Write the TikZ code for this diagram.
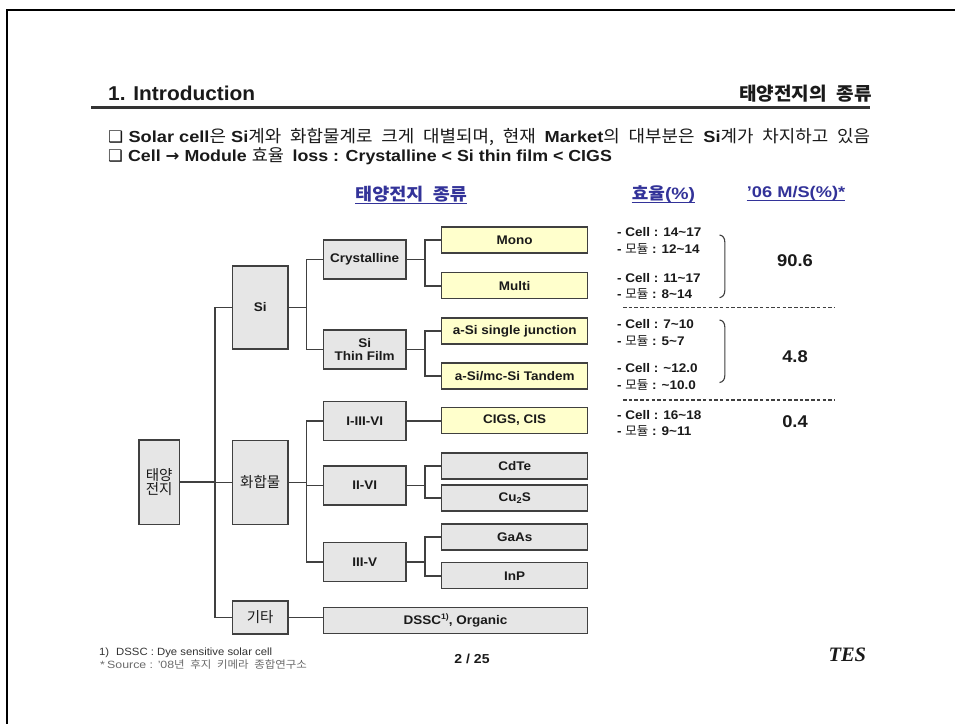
\documentclass[tikz,border=0pt]{standalone}
\usepackage{fontspec}
\setmainfont{Liberation Sans}[FakeStretch=1.08]
\newfontfamily\kr{Noto Sans CJK KR}
\newfontfamily\krw{Noto Sans CJK KR}[WordSpace=2.2]
\newfontfamily\dejavu{DejaVu Sans}
\newfontfamily\tesfont{Liberation Serif}
\newcommand{\K}[1]{{\krw\fontsize{17}{17}\selectfont #1}}
\newcommand{\KR}[1]{{\kr\mdseries #1}}
\newcommand{\fs}[1]{\fontsize{#1}{#1}\selectfont}
\newsavebox\fitbox
\newcommand{\fitw}[2]{\sbox\fitbox{#2}\pgfmathsetmacro\fitratio{#1/\wd\fitbox}\scalebox{\fitratio}[1]{\usebox\fitbox}}
\definecolor{boxgray}{HTML}{E6E6E6}
\definecolor{leafyel}{HTML}{FFFFCC}
\definecolor{lineC}{HTML}{404040}
\definecolor{navy}{HTML}{333399}
\definecolor{txt}{HTML}{1A1A1A}
\definecolor{foot}{HTML}{333333}
\definecolor{footlight}{HTML}{6A6A6A}
\tikzset{
  box/.style={draw=lineC, line width=1.5pt, fill=boxgray, inner sep=0pt, align=center, text=txt, font=\fs{12.5}\bfseries},
  leaf/.style={box, fill=leafyel, minimum width=146pt, minimum height=26pt},
  leafg/.style={box, minimum width=146pt, minimum height=26pt},
  midbox/.style={box, minimum width=82.7pt, minimum height=39pt},
  bigbox/.style={box, minimum width=55.7pt},
  conn/.style={draw=lineC, line width=1.6pt},
  eff/.style={anchor=base west, inner sep=0pt, text=txt, font=\fs{12.5}\bfseries},
  bignum/.style={inner sep=0pt, text=txt, font=\fs{17}\bfseries},
  hdr/.style={inner sep=0pt, anchor=base west, text=navy},
  uline/.style={navy, line width=1pt},
  sep/.style={draw=lineC, line width=1.2pt, dash pattern=on 3.5pt off 2.2pt},
  brace/.style={draw=lineC, line width=1.1pt},
  plain/.style={inner sep=0pt, text=txt}
}
\begin{document}
\begin{tikzpicture}[x=1pt,y=-1pt]
\useasboundingbox (0,0) rectangle (955,723);
\fill[white] (0,0) rectangle (955,723);
\draw[line width=2.6pt, black] (956,10) -- (7,10) -- (7,724);

% title
\node[plain, anchor=base west] (title) at (108,100) {\fitw{147}{\fs{20}\bfseries 1. Introduction}};
\node[plain, anchor=base west] (rhead) at (739,100.3) {\fitw{132.7}{\fs{18.3}\kr\bfseries 태양전지의 종류}};
\draw[draw=black!80, line width=2.6pt] (91,107.5) -- (870,107.5);

% bullets
\node[plain, anchor=base west] (b1) at (108,142.5)
 {\fitw{762}{\fs{16}{\dejavu ❑}\hspace{5pt}\textbf{Solar cell}\K{은} \textbf{Si}\K{계와 화합물계로 크게 대별되며, 현재 }\textbf{Market}\K{의 대부분은 }\textbf{Si}\K{계가 차지하고 있음}}};
\node[plain, anchor=base west] (b2) at (108,161)
 {\fitw{503.7}{\fs{16}{\dejavu ❑}\hspace{5pt}\textbf{Cell {\dejavu\bfseries →} Module }\K{효율 }\textbf{loss : Crystalline < Si thin film < CIGS}}};

% column headers
\node[hdr] (htype) at (355,200.3) {\fitw{111.7}{\fs{17}\kr\bfseries 태양전지 종류}};
\draw[uline] ([yshift=-2.7pt]htype.base west) -- ([yshift=-2.7pt]htype.base east);
\node[hdr] (heff) at (631.7,199.5) {\fitw{63.3}{\fs{16.5}\bfseries{\kr\bfseries 효율}(\%)}};
\draw[uline] ([yshift=-2.5pt]heff.base west) -- ([yshift=-2.5pt]heff.base east);
\node[hdr] (hms) at (746.7,197.8) {\fitw{98.3}{\fs{15.5}\bfseries ’06 M/S(\%)*}};
\draw[uline] ([yshift=-3pt]hms.base west) -- ([yshift=-3pt]hms.base east);

% tree boxes
\node[box, minimum width=40.3pt, minimum height=84.3pt] (tj) at (159.2,482.2) {\fs{14.5}\KR{태양}\\[0pt]\fs{14.5}\KR{전지}};
\node[bigbox, minimum height=83pt] (si) at (260.2,307.5) {Si};
\node[bigbox, minimum height=83.6pt] (hwa) at (260.2,482.5) {\fs{14.5}\KR{화합물}};
\node[bigbox, minimum height=33pt] (gita) at (260.2,617.5) {\fs{14.5}\KR{기타}};

\node[midbox] (cry) at (364.7,259.5) {Crystalline};
\node[midbox] (stf) at (364.7,349.5) {Si\\[1pt]Thin Film};
\node[midbox] (i3) at (364.7,421.2) {I-III-VI};
\node[midbox] (ii) at (364.7,485.5) {II-VI};
\node[midbox] (iii) at (364.7,562.2) {III-V};
\node[box, minimum width=264.4pt, minimum height=26pt] (dssc) at (455.5,620.3)
 {DSSC\raisebox{4.5pt}{\fs{8}1)}, Organic};

\node[leaf] (mono) at (514.7,239.9) {Mono};
\node[leaf] (multi) at (514.7,285.7) {Multi};
\node[leaf] (asi) at (514.7,331.2) {a-Si single junction};
\node[leaf] (tandem) at (514.7,376) {a-Si/mc-Si Tandem};
\node[leaf] (cigs) at (514.7,420.5) {CIGS, CIS};
\node[leafg] (cdte) at (514.7,466.2) {CdTe};
\node[leafg] (cu2s) at (514.7,498) {Cu\raisebox{-2.5pt}{\fs{8.5}2}S};
\node[leafg] (gaas) at (514.7,537) {GaAs};
\node[leafg] (inp) at (514.7,575.7) {InP};

% connectors
\draw[conn] (tj.east) -- ++(34.8,0) |- (si.west);
\draw[conn] (tj.east) -- ++(34.8,0) |- (hwa.west);
\draw[conn] (tj.east) -- ++(34.8,0) |- (gita.west);
\draw[conn] (si.east) -- ++(17.7,0) |- (cry.west);
\draw[conn] (si.east) -- ++(17.7,0) |- (stf.west);
\draw[conn] (cry.east) -- ++(17.9,0) |- (mono.west);
\draw[conn] (cry.east) -- ++(17.9,0) |- (multi.west);
\draw[conn] (stf.east) -- ++(17.9,0) |- (asi.west);
\draw[conn] (stf.east) -- ++(17.9,0) |- (tandem.west);
\draw[conn] (hwa.east) -- ++(17.7,0) |- (i3.west);
\draw[conn] (hwa.east) -- ++(17.7,0) |- (ii.west);
\draw[conn] (hwa.east) -- ++(17.7,0) |- (iii.west);
\draw[conn] (i3.east) -- (i3.east -| cigs.west);
\draw[conn] (ii.east) -- ++(17.9,0) |- (cdte.west);
\draw[conn] (ii.east) -- ++(17.9,0) |- (cu2s.west);
\draw[conn] (iii.east) -- ++(17.9,0) |- (gaas.west);
\draw[conn] (iii.east) -- ++(17.9,0) |- (inp.west);
\draw[conn] (gita.east) -- (gita.east -| dssc.west);

% efficiency column
\node[eff] (e1) at (617,236.5) {- Cell : 14\textasciitilde17};
\node[eff] (e2) at (617,253.5) {- \KR{모듈} : 12\textasciitilde14};
\node[eff] (e3) at (617,282.2) {- Cell : 11\textasciitilde17};
\node[eff] (e4) at (617,298.5) {- \KR{모듈} : 8\textasciitilde14};
\node[eff] (e5) at (617,328.5) {- Cell : 7\textasciitilde10};
\node[eff] (e6) at (617,345.2) {- \KR{모듈} : 5\textasciitilde7};
\node[eff] (e7) at (617,372.5) {- Cell : \textasciitilde12.0};
\node[eff] (e8) at (617,389.5) {- \KR{모듈} : \textasciitilde10.0};
\node[eff] (e9) at (617,419.5) {- Cell : 16\textasciitilde18};
\node[eff] (e10) at (617,435.2) {- \KR{모듈} : 9\textasciitilde11};

\draw[brace] (719.5,235) .. controls (723,235.5) and (724.8,238) .. (724.8,242) -- (724.8,290.5) .. controls (724.8,294.5) and (723,297) .. (719.5,297.7);
\draw[brace] (719.5,320) .. controls (723,320.5) and (724.8,323) .. (724.8,327) -- (724.8,375.5) .. controls (724.8,379.5) and (723,382) .. (719.5,382.5);

\node[bignum] (n1) at (795,260.7) {90.6};
\node[bignum] (n2) at (795,356.7) {4.8};
\node[bignum] (n3) at (795,421.7) {0.4};

\draw[sep] (623,307.3) -- (835,307.3);
\draw[sep] (623,400) -- (835,400);

% footer
\node[plain, anchor=base west, text=foot] (f1) at (99,655) {\fitw{173}{\fs{10.5}1)\hspace{7pt}DSSC : Dye sensitive solar cell}};
\node[plain, anchor=base west, text=footlight] (f2) at (100,668) {\fitw{206.7}{\fs{10.5}*\hspace{2pt}Source : ’08\KR{년 후지 키메라 종합연구소}}};
\node[plain, font=\fs{13}\bfseries] (page) at (472,659) {2 / 25};
\node[plain] (tes) at (847.3,655) {\fs{20.5}\tesfont\bfseries\itshape TES};
\end{tikzpicture}
\end{document}
